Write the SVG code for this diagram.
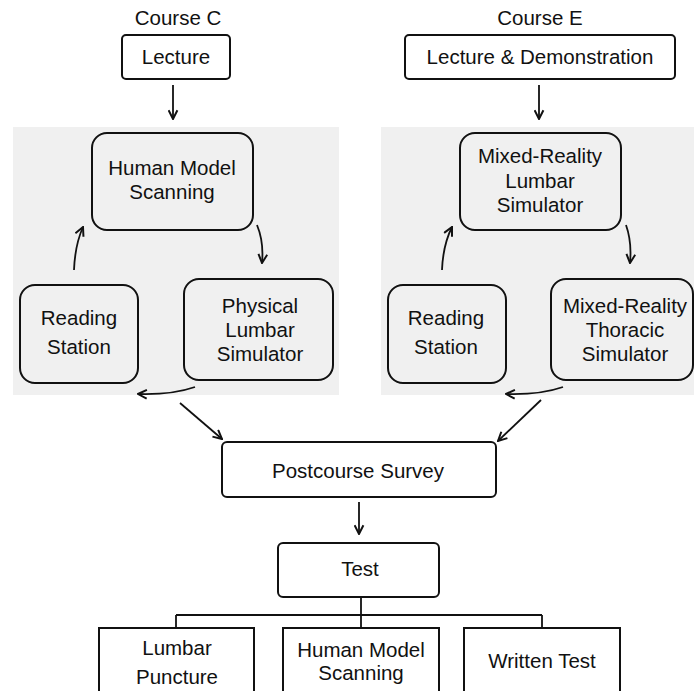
<svg xmlns="http://www.w3.org/2000/svg" width="694" height="691" viewBox="0 0 694 691">
<style>
text{font-family:"Liberation Sans",Arial,sans-serif;font-size:20.5px;fill:#111;text-anchor:middle}
.box{fill:#fff;stroke:#111;stroke-width:2}
.rbox{fill:#f0f0f0;stroke:#111;stroke-width:2}
.panel{fill:#f0f0f0;stroke:none}
.c{fill:none;stroke:#111;stroke-width:1.8}
</style>
<defs>
<marker id="ah" viewBox="0 0 10 10" refX="9" refY="5" markerWidth="11" markerHeight="11" markerUnits="userSpaceOnUse" orient="auto">
<path d="M1,1 L9,5 L1,9" fill="none" stroke="#111" stroke-width="1.8"/>
</marker>
</defs>
<rect fill="#fff" x="0" y="0" width="694" height="691"/>
<rect class="panel" x="13" y="127" width="326" height="268"/>
<rect class="panel" x="381" y="127" width="313" height="268"/>
<text x="178" y="25">Course C</text>
<text x="540" y="25">Course E</text>
<g id="lecture">
<rect class="box" x="122" y="35" width="108" height="44" rx="4"/>
<text x="176" y="64">Lecture</text>
</g>
<g id="lecture-demo">
<rect class="box" x="405" y="35" width="270" height="44" rx="4"/>
<text x="540" y="64">Lecture &amp; Demonstration</text>
</g>
<g id="hms-c">
<rect class="rbox" x="92" y="133" width="161" height="97" rx="15"/>
<text x="172" y="175">Human Model</text>
<text x="172" y="199">Scanning</text>
</g>
<g id="physical">
<rect class="rbox" x="184" y="279" width="149" height="101" rx="15"/>
<text x="260" y="313">Physical</text>
<text x="260" y="337">Lumbar</text>
<text x="260" y="361">Simulator</text>
</g>
<g id="reading-c">
<rect class="rbox" x="20" y="285" width="118" height="98" rx="15"/>
<text x="79" y="325">Reading</text>
<text x="79" y="354">Station</text>
</g>
<g id="mrl">
<rect class="rbox" x="460" y="133" width="161" height="97" rx="15"/>
<text x="540" y="163">Mixed-Reality</text>
<text x="540" y="188">Lumbar</text>
<text x="540" y="212">Simulator</text>
</g>
<g id="mrt">
<rect class="rbox" x="551" y="279" width="142" height="101" rx="15"/>
<text x="625" y="313">Mixed-Reality</text>
<text x="625" y="337">Thoracic</text>
<text x="625" y="361">Simulator</text>
</g>
<g id="reading-e">
<rect class="rbox" x="388" y="285" width="118" height="98" rx="15"/>
<text x="446" y="325">Reading</text>
<text x="446" y="354">Station</text>
</g>
<g id="survey">
<rect class="box" x="222" y="442" width="274" height="55" rx="5"/>
<text x="358" y="478">Postcourse Survey</text>
</g>
<g id="test">
<rect class="box" x="278" y="543" width="161" height="54" rx="5"/>
<text x="360" y="576">Test</text>
</g>
<g id="lp">
<rect class="box" x="99" y="628" width="155" height="80"/>
<text x="177" y="655">Lumbar</text>
<text x="177" y="684">Puncture</text>
</g>
<g id="hms-t">
<rect class="box" x="283" y="628" width="156" height="80"/>
<text x="361" y="657">Human Model</text>
<text x="361" y="680">Scanning</text>
</g>
<g id="written">
<rect class="box" x="464" y="628" width="156" height="80"/>
<text x="542" y="668">Written Test</text>
</g>
<g id="connectors">
<path class="c" d="M173,85 L173,119" marker-end="url(#ah)"/>
<path class="c" d="M539,85 L539,119" marker-end="url(#ah)"/>
<path class="c" d="M257,225 Q264,242 262,263" marker-end="url(#ah)"/>
<path class="c" d="M74,270 Q75,245 83,227" marker-end="url(#ah)"/>
<path class="c" d="M195,387 Q172,395 138,394" marker-end="url(#ah)"/>
<path class="c" d="M626,225 Q632,242 630,263" marker-end="url(#ah)"/>
<path class="c" d="M442,270 Q443,245 452,227" marker-end="url(#ah)"/>
<path class="c" d="M563,387 Q540,395 506,394" marker-end="url(#ah)"/>
<path class="c" d="M180,403 L222,439" marker-end="url(#ah)"/>
<path class="c" d="M541,400 L498,441" marker-end="url(#ah)"/>
<path class="c" d="M359,502 L359,534" marker-end="url(#ah)"/>
<path class="c" d="M361,597 V615 M176,615 H542 M176,615 V628 M361,615 V628 M542,615 V628" stroke-width="2"/>
</g>
</svg>
